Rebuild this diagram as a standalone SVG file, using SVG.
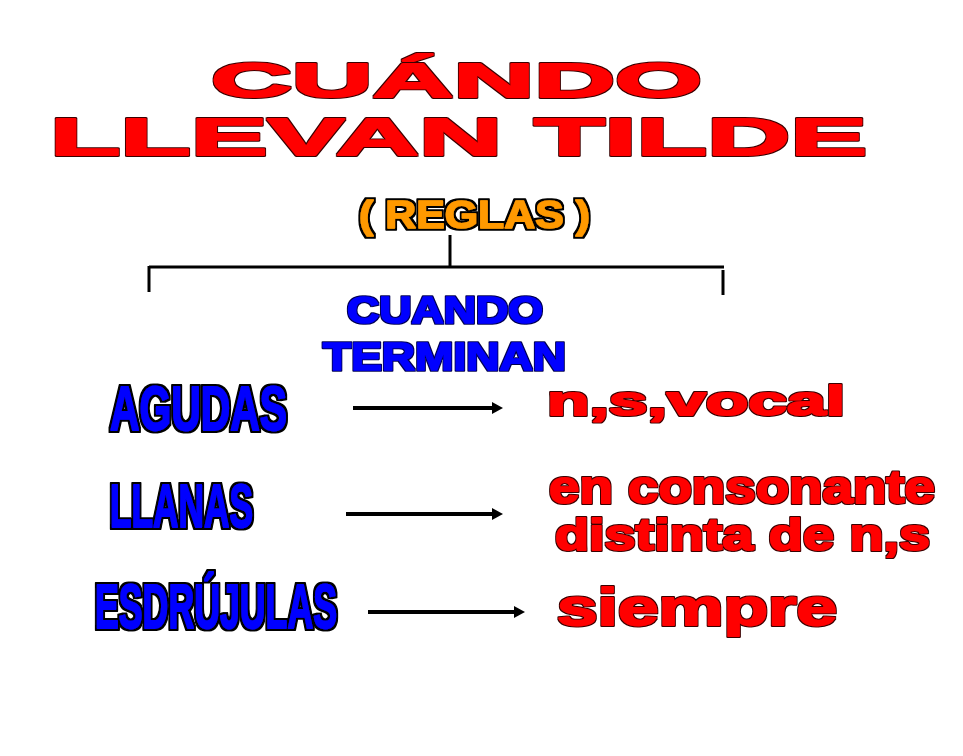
<svg xmlns="http://www.w3.org/2000/svg" width="963" height="756" viewBox="0 0 963 756">
<style>
.t{font-family:"Liberation Sans",Arial,sans-serif;font-weight:bold;stroke-linejoin:round;}
.red{fill:#FF0000;stroke:#FF0000;stroke-width:1.8;filter:url(#olR);}
.blueN{fill:#0000FF;stroke:#0000FF;stroke-width:1.8;filter:url(#olB);}
.blueW{fill:#0000FF;stroke:#0000FF;stroke-width:1.6;filter:url(#olW);}
.orange{fill:#FF9900;stroke:#FF9900;stroke-width:1.4;filter:url(#olB);}
.ln{stroke:#000;stroke-width:3;fill:none;}
.ar{stroke:#000;stroke-width:4;fill:none;}
</style>
<defs>
<marker id="ah" markerUnits="userSpaceOnUse" markerWidth="12" markerHeight="12" viewBox="0 0 12 12" refX="1" refY="6" orient="auto">
<path d="M0,0 L11,6 L0,12 Z" fill="#000"/>
</marker>
<filter id="olR" x="-5%" y="-20%" width="110%" height="140%">
<feMorphology in="SourceAlpha" operator="dilate" radius="1.2" result="d"/>
<feFlood flood-color="#3a0000"/>
<feComposite in2="d" operator="in" result="o"/>
<feMerge><feMergeNode in="o"/><feMergeNode in="SourceGraphic"/></feMerge>
</filter>
<filter id="olB" x="-5%" y="-20%" width="110%" height="140%">
<feMorphology in="SourceAlpha" operator="dilate" radius="1.6" result="d"/>
<feFlood flood-color="#000000"/>
<feComposite in2="d" operator="in" result="o"/>
<feMerge><feMergeNode in="o"/><feMergeNode in="SourceGraphic"/></feMerge>
</filter>
<filter id="olW" x="-5%" y="-20%" width="110%" height="140%">
<feMorphology in="SourceAlpha" operator="dilate" radius="0.9" result="d"/>
<feFlood flood-color="#000050"/>
<feComposite in2="d" operator="in" result="o"/>
<feMerge><feMergeNode in="o"/><feMergeNode in="SourceGraphic"/></feMerge>
</filter>
</defs>
<rect width="963" height="756" fill="#fff"/>
<g id="title">
<text class="t red" x="211" y="97" font-size="49" textLength="491" lengthAdjust="spacingAndGlyphs">CUÁNDO</text>
<text class="t red" x="50" y="155" font-size="52" textLength="817" lengthAdjust="spacingAndGlyphs">LLEVAN TILDE</text>
</g>
<g id="reglas">
<text class="t orange" x="359" y="228" font-size="39" textLength="231" lengthAdjust="spacingAndGlyphs">( REGLAS )</text>
</g>
<g id="connectors">
<line class="ln" x1="450" y1="235" x2="450" y2="267"/>
<line class="ln" x1="149" y1="267" x2="724" y2="267"/>
<line class="ln" x1="149" y1="266" x2="149" y2="292"/>
<line class="ln" x1="723" y1="270" x2="723" y2="295"/>
<line class="ar" x1="353" y1="408" x2="493" y2="408" marker-end="url(#ah)"/>
<line class="ar" x1="346" y1="514" x2="493" y2="514" marker-end="url(#ah)"/>
<line class="ar" x1="368" y1="612" x2="515" y2="612" marker-end="url(#ah)"/>
</g>
<g id="cuando-terminan">
<text class="t blueW" x="347" y="323" font-size="37" textLength="196" lengthAdjust="spacingAndGlyphs">CUANDO</text>
<text class="t blueW" x="323" y="370" font-size="39" textLength="243" lengthAdjust="spacingAndGlyphs">TERMINAN</text>
</g>
<g id="agudas">
<text class="t blueN" x="110" y="430" font-size="63" textLength="177" lengthAdjust="spacingAndGlyphs">AGUDAS</text>
</g>
<g id="llanas">
<text class="t blueN" x="110" y="527" font-size="62" textLength="143" lengthAdjust="spacingAndGlyphs">LLANAS</text>
</g>
<g id="esdrujulas">
<text class="t blueN" x="95" y="628" font-size="63" textLength="242" lengthAdjust="spacingAndGlyphs">ESDRÚJULAS</text>
</g>
<g id="nsvocal">
<text class="t red" x="547" y="415" font-size="41" textLength="298" lengthAdjust="spacingAndGlyphs">n,s,vocal</text>
</g>
<g id="consonante">
<text class="t red" x="549" y="503" font-size="47" textLength="386" lengthAdjust="spacingAndGlyphs">en consonante</text>
<text class="t red" x="555" y="550" font-size="45" textLength="375" lengthAdjust="spacingAndGlyphs">distinta de n,s</text>
</g>
<g id="siempre">
<text class="t red" x="557" y="625" font-size="52" textLength="280" lengthAdjust="spacingAndGlyphs">siempre</text>
</g>
</svg>
